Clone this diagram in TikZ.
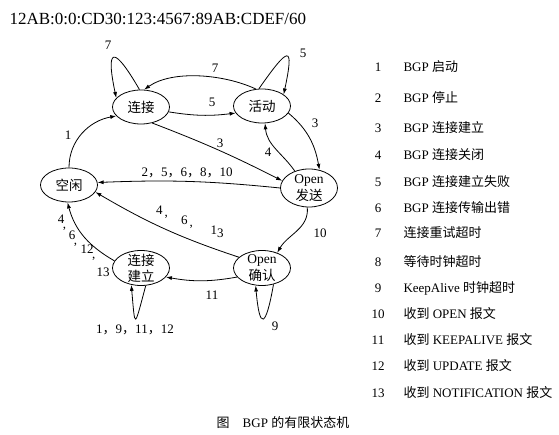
\documentclass[tikz,border=0pt]{standalone}
\usepackage{fontspec}
\setmainfont{Liberation Serif}
\newfontfamily\cjk{Noto Sans CJK SC}
\newcommand{\zh}[1]{{\cjk #1}}
\newcommand{\cm}{\rlap{\kern-1.5pt\raisebox{-5pt}{,}}}
\usetikzlibrary{shapes.geometric,arrows.meta}

\begin{document}
\begin{tikzpicture}[x=1pt,y=1pt,
    every node/.style={font=\fontsize{13}{15}\selectfont},
    state/.style={draw,ellipse,line width=0.8pt,inner xsep=0pt,inner ysep=-3pt,align=center,
        minimum width=57pt,minimum height=34pt,font=\fontsize{13.5}{14}\selectfont},
    arr/.style={-{Latex[length=6pt,width=4pt]},line width=0.8pt}]
    \useasboundingbox(0,0)rectangle(559,435);
    \node[anchor=base west,font=\fontsize{17}{19}\selectfont](addr)at(6,410){12AB:0:0:CD30:123:4567:89AB:CDEF/60};

    % states
    \node[state](conn)at(141,328){\zh{连接}};
    \node[state](act)at(262,329){\zh{活动}};
    \node[state](idle)at(69,250){\zh{空闲}};
    \node[state,minimum height=38pt](osent)at(309,247){Open\\[2pt]\zh{发送}};
    \node[state,minimum height=35pt](est)at(141,167){\zh{连接}\\[2pt]\zh{建立}};
    \node[state,minimum height=35pt](oconf)at(262,167){Open\\[2pt]\zh{确认}};

    % transitions
    \draw[arr](idle.90)to[out=90,in=190](conn.200);
    \draw[arr](conn.95)to[out=120,in=102,distance=52pt](conn.160);
    \draw[arr](act.100)to[out=55,in=78,distance=52pt](act.28);
    \draw[arr](act.110)to[out=155,in=35,looseness=0.8](conn.80);
    \draw[arr](conn.-10)to[bend right=8](act.195);
    \draw[arr](conn.-55)to[bend left=3](osent.165);
    \draw[arr](act.-15)to[out=-40,in=100](osent.60);
    \draw[arr](osent.130)to[out=125,in=-85](act.-80);
    \draw[arr](osent.180)to[bend right=4](idle.5);
    \draw[arr](oconf.155)to[bend left=6](idle.-15);
    \draw[arr](est.165)to[out=150,in=-75](idle.-95);
    \draw[arr](osent.-95)to[out=-85,in=60](oconf.45);
    \draw[arr](oconf.200)to[bend left=10](est.-20);
    \draw[arr](est.-75)to[out=-105,in=-85,distance=45pt](est.-120);
    \draw[arr](oconf.-55)to[out=-100,in=-85,distance=45pt](oconf.-110);

    % labels
    \node(l7a)at(108,390){7};
    \node(l5a)at(303,382){5};
    \node(l7b)at(215,367){7};
    \node(l5b)at(212,333){5};
    \node(l3a)at(220,292){3};
    \node(l3b)at(315,312){3};
    \node(l4a)at(268,283){4};
    \node(l1)at(68,300){1};
    \node(l2)at(187,262){2\zh{，}5\zh{，}6\zh{，}8\zh{，}10};
    \node(l4b)at(162,223){4\,\raisebox{-2pt}{,}};
    \node(l6b)at(187,213){6\,\raisebox{-2pt}{,}};
    \node(l13b)at(217,203){1\raisebox{-3pt}{3}};
    \node(l4c)at(61,212){4\cm};
    \node(l6c)at(72,196){6\cm};
    \node(l12c)at(87,182){12\cm};
    \node(l13c)at(103,163){13};
    \node(l10)at(320,202){10};
    \node(l11)at(212,140){11};
    \node(l19)at(135,105){1\zh{，}9\zh{，}11\zh{，}12};
    \node(l9)at(275,109){9};

    % legend
    \foreach \n/\y/\t in {1/368/BGP \zh{启动},2/337/BGP \zh{停止},3/307/BGP \zh{连接建立},
        4/280/BGP \zh{连接关闭},5/253/BGP \zh{连接建立失败},6/227/BGP \zh{连接传输出错},
        7/202/\zh{连接重试超时},8/173/\zh{等待时钟超时},9/147/KeepAlive \zh{时钟超时},
        10/121/\zh{收到} OPEN \zh{报文},11/95/\zh{收到} KEEPALIVE \zh{报文},
        12/69/\zh{收到} UPDATE \zh{报文},13/42/\zh{收到} NOTIFICATION \zh{报文}}{
        \node[anchor=base](n\n)at(378,\y-4.5){\n};
        \node[anchor=base west](t\n)at(400,\y-4.5){\t};
    }

    \node(cap)at(283,12){\zh{图}\quad BGP \zh{的有限状态机}};
\end{tikzpicture}
\end{document}
